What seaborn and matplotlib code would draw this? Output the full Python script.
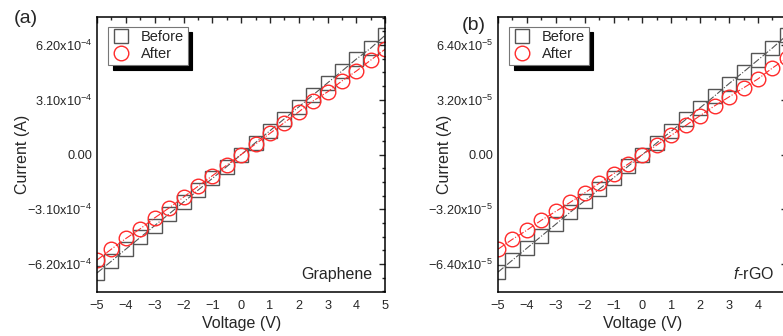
import numpy as np
import matplotlib
matplotlib.use("Agg")
import matplotlib.pyplot as plt
import seaborn as sns
from matplotlib.ticker import AutoMinorLocator, FixedLocator, FixedFormatter

sns.set_style("white")
plt.rcParams['font.family'] = ['Liberation Sans', 'DejaVu Sans']
plt.rcParams['mathtext.fontset'] = 'custom'
plt.rcParams['mathtext.rm'] = 'Liberation Sans'
plt.rcParams['mathtext.it'] = 'Liberation Sans:italic'

# Voltage sweep (V)
voltage = [-5.0, -4.5, -4.0, -3.5, -3.0, -2.5, -2.0, -1.5, -1.0, -0.5, 0.0,
           0.5, 1.0, 1.5, 2.0, 2.5, 3.0, 3.5, 4.0, 4.5, 5.0]

# (a) Graphene current, x1e-4 A
graphene_before = [-6.70, -6.03, -5.35, -4.69, -4.02, -3.36, -2.69, -2.02, -1.35, -0.68, 0.0,
                   0.68, 1.35, 2.03, 2.70, 3.38, 4.06, 4.73, 5.41, 6.03, 6.76]
graphene_after = [-5.97, -5.35, -4.75, -4.20, -3.58, -3.02, -2.41, -1.80, -1.20, -0.60, 0.0,
                  0.60, 1.20, 1.81, 2.42, 3.04, 3.55, 4.17, 4.73, 5.35, 5.97]

# (b) f-rGO current, x1e-5 A
frgo_before = [-6.87, -6.17, -5.47, -4.77, -4.07, -3.37, -2.70, -2.03, -1.36, -0.69, 0.0,
               0.69, 1.37, 2.05, 2.74, 3.43, 4.15, 4.83, 5.53, 6.23, 6.98]
frgo_after = [-5.53, -4.95, -4.42, -3.84, -3.32, -2.79, -2.24, -1.68, -1.12, -0.56, 0.0,
              0.56, 1.13, 1.70, 2.28, 2.85, 3.37, 3.90, 4.42, 5.06, 5.64]

yticks_a = [-6.20e-4, -3.10e-4, 0.0, 3.10e-4, 6.20e-4]
ylabels_a = [r'$-$6.20x10$^{-4}$', r'$-$3.10x10$^{-4}$', '0.00', r'3.10x10$^{-4}$', r'6.20x10$^{-4}$']
yticks_b = [-6.40e-5, -3.20e-5, 0.0, 3.20e-5, 6.40e-5]
ylabels_b = [r'$-$6.40x10$^{-5}$', r'$-$3.20x10$^{-5}$', '0.00', r'3.20x10$^{-5}$', r'6.40x10$^{-5}$']
xticks = [-5, -4, -3, -2, -1, 0, 1, 2, 3, 4, 5]
xlabels_a = ['\u22125', '\u22124', '\u22123', '\u22122', '\u22121', '0', '1', '2', '3', '4', '5']
# the right panel runs off the image edge, so its "5" is not visible
xlabels_b = ['\u22125', '\u22124', '\u22123', '\u22122', '\u22121', '0', '1', '2', '3', '4', '']

fig = plt.figure(figsize=(7.83, 3.36), dpi=100)
ax1 = fig.add_axes([0.124, 0.131, 0.368, 0.818])
ax2 = fig.add_axes([0.636, 0.131, 0.369, 0.818])

panels = [
    (ax1, np.array(graphene_before) * 1e-4, np.array(graphene_after) * 1e-4,
     7.78e-4, yticks_a, ylabels_a, xlabels_a, '(a)', (-0.29, 0.996), -0.233, 'Graphene'),
    (ax2, np.array(frgo_before) * 1e-5, np.array(frgo_after) * 1e-5,
     8.03e-5, yticks_b, ylabels_b, xlabels_b, '(b)', (-0.125, 0.97), -0.159, r'$\it{f}$-rGO'),
]

for ax, before, after, ylim, yt, yl, xl, tag, tagpos, ylab_x, name in panels:
    sns.lineplot(x=voltage, y=before, ax=ax, color='#555555', linestyle='-.', linewidth=0.8,
                 marker='s', markersize=9.5, markerfacecolor='none', markeredgecolor='#555555',
                 markeredgewidth=1.0, label='Before')
    sns.lineplot(x=voltage, y=after, ax=ax, color='#ff2a2a', linestyle='-.', linewidth=0.8,
                 marker='o', markersize=10.5, markerfacecolor='none', markeredgecolor='#ff2a2a',
                 markeredgewidth=1.0, label='After')
    ax.set_xlim(-5, 5)
    ax.set_ylim(-ylim, ylim)
    ax.xaxis.set_major_locator(FixedLocator(xticks))
    ax.xaxis.set_major_formatter(FixedFormatter(xl))
    ax.yaxis.set_major_locator(FixedLocator(yt))
    ax.yaxis.set_major_formatter(FixedFormatter(yl))
    ax.xaxis.set_minor_locator(AutoMinorLocator(2))
    ax.yaxis.set_minor_locator(AutoMinorLocator(4))
    ax.tick_params(which='both', direction='in', top=True, right=True, labelsize=9.2, width=1.0)
    ax.tick_params(which='major', length=4.5)
    ax.tick_params(which='minor', length=2.5)
    ax.tick_params(axis='x', pad=6)
    for sp in ax.spines.values():
        sp.set_linewidth(1.1)
        sp.set_color('black')
    ax.set_xlabel('Voltage (V)', fontsize=11.5, labelpad=3)
    ax.set_ylabel('Current (A)', fontsize=11.5)
    ax.yaxis.set_label_coords(ylab_x, 0.5)
    ax.text(tagpos[0], tagpos[1], tag, transform=ax.transAxes, fontsize=14, va='center', ha='left')
    ax.text(0.955, 0.035, name, transform=ax.transAxes, fontsize=11.5, ha='right', va='bottom')
    leg = ax.legend(loc='upper left', bbox_to_anchor=(0.038, 0.965), fontsize=10.5,
                    frameon=True, fancybox=False, framealpha=1, edgecolor='#777777',
                    shadow={'color': 'black', 'alpha': 1.0, 'ox': 3.5, 'oy': -3.5},
                    handlelength=1.3, handletextpad=0.7, borderpad=0.25,
                    labelspacing=0.2, borderaxespad=0.0, markerscale=1.0)
    for h in leg.get_lines():
        h.set_linestyle('none')
    leg.get_frame().set_linewidth(0.8)

fig.savefig('out.png', dpi=100)
